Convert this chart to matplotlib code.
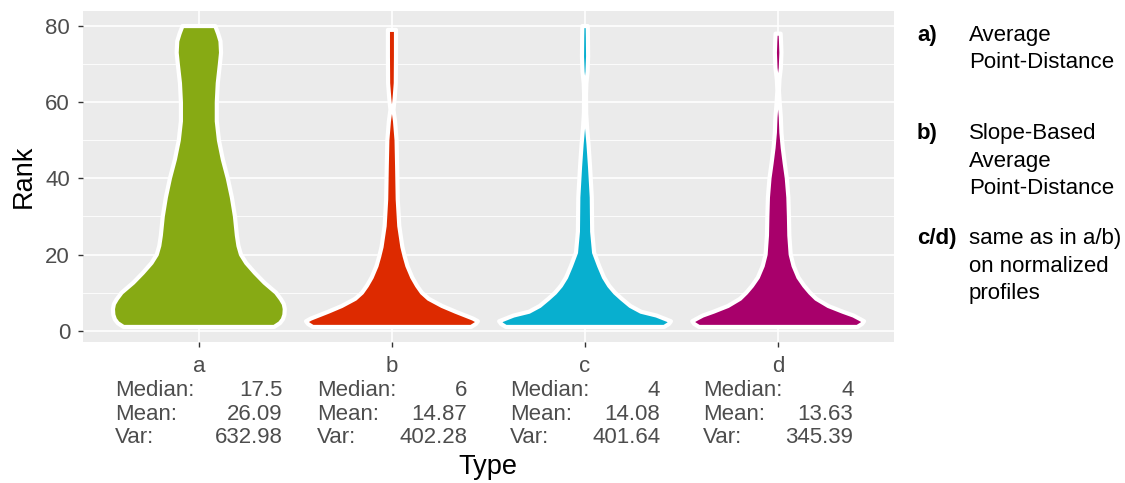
# Violin plot of rank per type, ggplot-like look

import matplotlib
matplotlib.use("Agg")
import matplotlib.pyplot as plt
import matplotlib.transforms as mtransforms
import numpy as np

plt.rcParams['font.family'] = ['Liberation Sans', 'DejaVu Sans']

# --- Data ---
types = ['a', 'b', 'c', 'd']
colors = ['#87AA14', '#DD2A00', '#08AFCF', '#A8006B']
medians = ['17.5', '6', '4', '4']
means = ['26.09', '14.87', '14.08', '13.63']
variances = ['632.98', '402.28', '401.64', '345.39']

# violin profiles: rank and half width (in category units)
rank_a = [1, 2, 3, 4.2, 5.7, 7, 8.3, 10, 11.3, 12.6, 15.2, 17.8, 20, 22.3, 25, 30, 35, 40, 45,
          50, 55, 60, 65, 70, 73, 76, 78, 80]
width_a = [0.39, 0.42, 0.435, 0.443, 0.445, 0.44, 0.425, 0.40, 0.37, 0.34, 0.29, 0.245, 0.218,
           0.205, 0.197, 0.187, 0.171, 0.150, 0.124, 0.104, 0.093, 0.093, 0.098, 0.109, 0.115,
           0.112, 0.100, 0.085]

rank_b = [1, 1.8, 2.5, 3.2, 4, 5, 6.5, 8.4, 10, 11.8, 14, 17, 19.5, 22, 27.5, 34.5, 43, 50, 55,
          58, 61, 65, 72, 79]
width_b = [0.41, 0.435, 0.445, 0.42, 0.38, 0.33, 0.26, 0.19, 0.155, 0.13, 0.105, 0.08, 0.066,
           0.054, 0.038, 0.03, 0.027, 0.024, 0.016, 0.008, 0.014, 0.02, 0.021, 0.021]

rank_c = [1, 1.8, 2.5, 3.2, 4, 5, 6.5, 8.4, 10, 11.8, 14, 17, 20.5, 26, 35, 43, 49, 53, 57, 62,
          65, 68, 72, 77, 80]
width_c = [0.41, 0.435, 0.445, 0.41, 0.37, 0.29, 0.235, 0.19, 0.155, 0.125, 0.098, 0.073, 0.047,
           0.037, 0.035, 0.026, 0.018, 0.011, 0.006, 0.005, 0.007, 0.013, 0.016, 0.015, 0.014]

rank_d = [1, 1.8, 2.5, 3.2, 4, 5, 6.5, 8.4, 10, 11.8, 14, 17, 20, 25, 30, 35, 40, 44, 48, 52, 56,
          60, 63, 66, 69, 73, 76, 78]
width_d = [0.41, 0.435, 0.445, 0.42, 0.39, 0.335, 0.26, 0.197, 0.165, 0.135, 0.105, 0.08, 0.065,
           0.058, 0.056, 0.053, 0.045, 0.034, 0.024, 0.017, 0.014, 0.008, 0.004, 0.007, 0.014,
           0.017, 0.015, 0.013]

ranks = [rank_a, rank_b, rank_c, rank_d]
widths = [width_a, width_b, width_c, width_d]

y_ticks = [0, 20, 40, 60, 80]

side_labels = ['a)', 'b)', 'c/d)']
side_texts = [['Average', 'Point-Distance'],
              ['Slope-Based', 'Average', 'Point-Distance'],
              ['same as in a/b)', 'on normalized', 'profiles']]

# --- Layout (pixels of a 1125x483 canvas) ---
W, H = 1125, 483
panel_left, panel_right, panel_top, panel_bottom = 83, 894, 11, 342
grey30 = '#4D4D4D'
fs = 16

def fy(px):
    return 1 - px / H

fig = plt.figure(figsize=(W / 100, H / 100), dpi=100)
ax = fig.add_axes([panel_left / W, fy(panel_bottom), (panel_right - panel_left) / W,
                   (panel_bottom - panel_top) / H])
ax.set_facecolor('#EBEBEB')
for s in ax.spines.values():
    s.set_visible(False)

positions = np.arange(1, len(types) + 1)

# grid
for y in y_ticks:
    ax.axhline(y, color='white', lw=1.2, zorder=1)
for y in [10, 30, 50, 70]:
    ax.axhline(y, color='white', lw=0.6, zorder=1)
for x in positions:
    ax.axvline(x, color='white', lw=1.2, zorder=1)

# violins
for pos, r, w, col in zip(positions, ranks, widths, colors):
    r = np.asarray(r)
    w = np.asarray(w)
    xs = np.concatenate([pos + w, (pos - w)[::-1]])
    ys = np.concatenate([r, r[::-1]])
    ax.fill(xs, ys, facecolor=col, edgecolor='white', linewidth=3,
            joinstyle='round', zorder=3)

ax.set_xlim(0.4, 4.6)
ax.set_ylim(-2.95, 83.95)
ax.set_yticks(y_ticks)
ax.set_yticklabels([str(v) for v in y_ticks], fontsize=fs, color=grey30)
ax.set_xticks(positions)
ax.set_xticklabels([])
ax.tick_params(axis='both', length=3.5, width=1.0, color='#333333')
ax.tick_params(axis='y', pad=5.8)

# x labels with stats
trans = mtransforms.blended_transform_factory(ax.transData, fig.transFigure)
stat_half = [0.435, 0.39, 0.39, 0.39]
for pos, t, med, mn, var, hw in zip(positions, types, medians, means, variances, stat_half):
    ax.text(pos, fy(372), t, transform=trans, ha='center', va='baseline',
            fontsize=fs, color=grey30)
    for lab, val, base in zip(['Median:', 'Mean:', 'Var:'], [med, mn, var], [396, 419.5, 443]):
        ax.text(pos - hw, fy(base), lab, transform=trans, ha='left', va='baseline',
                fontsize=fs, color=grey30)
        ax.text(pos + hw, fy(base), val, transform=trans, ha='right', va='baseline',
                fontsize=fs, color=grey30)

# axis titles
fig.text(488 / W, fy(474), 'Type', ha='center', va='baseline', fontsize=19.5)
fig.text(24 / W, fy(176), 'Rank', ha='center', va='center', rotation=90, fontsize=19.5)

# side annotation
baselines = [[41, 68.5], [139, 166.5, 194], [244, 271.5, 299]]
for lab, lines, bases in zip(side_labels, side_texts, baselines):
    fig.text(917 / W, fy(bases[0]), lab, ha='left', va='baseline', fontsize=fs,
             fontweight='bold')
    for line, b in zip(lines, bases):
        fig.text(969 / W, fy(b), line, ha='left', va='baseline', fontsize=fs)

plt.savefig('out.png', dpi=100)
